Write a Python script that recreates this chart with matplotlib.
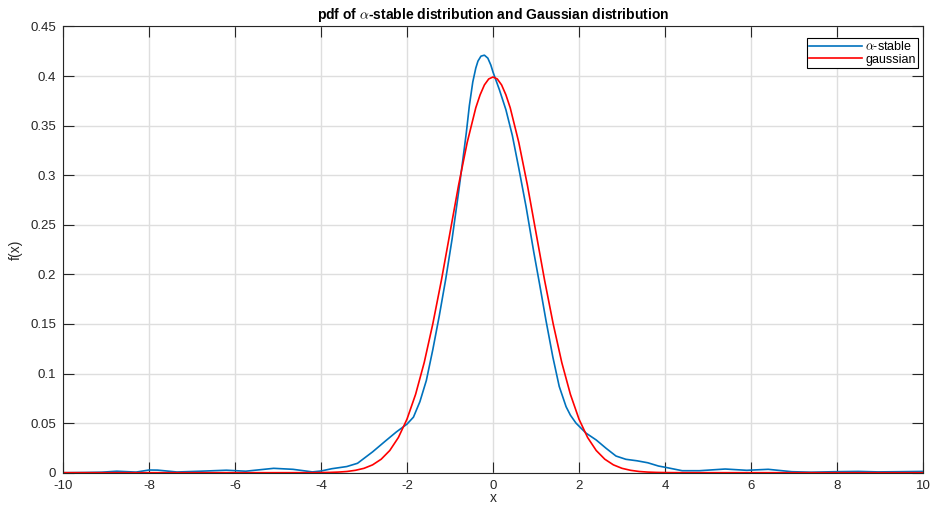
import matplotlib
matplotlib.use('Agg')
import matplotlib.pyplot as plt
from matplotlib.ticker import FuncFormatter

plt.rcParams['font.family'] = ['Liberation Sans', 'DejaVu Sans']
plt.rcParams['mathtext.fontset'] = 'cm'
plt.rcParams['axes.unicode_minus'] = False

# alpha-stable pdf
x_stable = [-10, -9.5, -9.1, -8.75, -8.3, -8.0, -7.8, -7.35, -6.8, -6.2, -5.75, -5.1,
            -4.65, -4.2, -4.0, -3.75, -3.4, -3.15, -2.8, -2.5, -2.25, -2.0, -1.85, -1.7,
            -1.55, -1.4, -1.25, -1.1, -0.95, -0.8, -0.7, -0.62, -0.55, -0.47, -0.4, -0.35,
            -0.28, -0.2, -0.12, -0.05, 0.0, 0.15, 0.3, 0.45, 0.6, 0.77, 0.95, 1.08, 1.23,
            1.39, 1.54, 1.7, 1.8, 1.93, 2.16, 2.4, 2.63, 2.86, 3.09, 3.35, 3.6, 3.85, 4.0,
            4.4, 4.8, 5.4, 5.9, 6.4, 6.95, 7.4, 7.95, 8.5, 8.95, 9.45, 10]
y_stable = [0.0, 0.0002, 0.0005, 0.0015, 0.0006, 0.0027, 0.0026, 0.0007, 0.0015, 0.0025,
            0.0015, 0.0044, 0.0034, 0.0008, 0.0017, 0.004, 0.0062, 0.0095, 0.021, 0.032,
            0.041, 0.049, 0.056, 0.0716, 0.093, 0.124, 0.158, 0.195, 0.236, 0.283, 0.316,
            0.343, 0.370, 0.394, 0.408, 0.415, 0.420, 0.421, 0.418, 0.411, 0.404, 0.386,
            0.366, 0.340, 0.307, 0.268, 0.222, 0.191, 0.154, 0.117, 0.087, 0.0665, 0.058,
            0.050, 0.040, 0.033, 0.0246, 0.0168, 0.0135, 0.012, 0.010, 0.0067, 0.0055,
            0.002, 0.002, 0.0037, 0.0024, 0.0034, 0.001, 0.0005, 0.001, 0.0013, 0.0008,
            0.001, 0.0013]

# gaussian pdf
x_gauss = [-10, -5, -4.4, -4.2, -4.0, -3.8, -3.6, -3.4, -3.2, -3.0, -2.8, -2.6, -2.4, -2.2,
           -2.0, -1.8, -1.6, -1.4, -1.2, -1.0, -0.8, -0.6, -0.4, -0.3, -0.2, -0.1, 0.0,
           0.1, 0.2, 0.3, 0.4, 0.6, 0.8, 1.0, 1.2, 1.4, 1.6, 1.8, 2.0, 2.2, 2.4, 2.6, 2.8,
           3.0, 3.2, 3.4, 3.6, 3.8, 4.0, 4.2, 4.4, 5, 10]
y_gauss = [0.0, 0.0, 0.00003, 0.00006, 0.00013, 0.00029, 0.0006, 0.0012, 0.0024, 0.0044,
           0.0079, 0.0136, 0.0224, 0.0355, 0.054, 0.079, 0.111, 0.150, 0.194, 0.242,
           0.290, 0.333, 0.368, 0.381, 0.391, 0.397, 0.399, 0.397, 0.391, 0.381, 0.368,
           0.333, 0.290, 0.242, 0.194, 0.150, 0.111, 0.079, 0.054, 0.0355, 0.0224, 0.0136,
           0.0079, 0.0044, 0.0024, 0.0012, 0.0006, 0.00029, 0.00013, 0.00006, 0.00003,
           0.0, 0.0]

x_ticks = [-10, -8, -6, -4, -2, 0, 2, 4, 6, 8, 10]
y_ticks = [0, 0.05, 0.1, 0.15, 0.2, 0.25, 0.3, 0.35, 0.4, 0.45]

dark = '#262626'

fig = plt.figure(figsize=(9.33, 5.08), dpi=100)
ax = fig.add_axes([0.0675, 0.0695, 0.9218, 0.8785])

ax.plot(x_stable, y_stable, color='#0072BD', lw=1.2, label=r'$\alpha$-stable')
ax.plot(x_gauss, y_gauss, color='#FF0000', lw=1.2, label='gaussian')

ax.set_xlim(-10, 10)
ax.set_ylim(0, 0.45)
ax.set_xticks(x_ticks)
ax.set_yticks(y_ticks)
ax.yaxis.set_major_formatter(FuncFormatter(lambda v, p: '%g' % round(v, 2)))

ax.grid(True, color='#dedede', lw=1.0)
ax.set_axisbelow(True)
ax.tick_params(direction='in', length=8, width=0.8, colors=dark, labelsize=9.5,
               top=True, right=True, labelcolor=dark)
ax.tick_params(axis='x', pad=5.5)
ax.tick_params(axis='y', pad=5)
for s in ax.spines.values():
    s.set_color(dark)
    s.set_linewidth(0.8)

ax.set_title(r'pdf of $\alpha$-stable distribution and Gaussian distribution',
             fontsize=10, fontweight='bold', color='black', pad=5)
ax.set_xlabel('x', fontsize=10, color=dark, labelpad=-1)
ax.set_ylabel('f(x)', fontsize=10, color=dark, labelpad=5)

leg = ax.legend(loc='upper right', bbox_to_anchor=(0.9945, 0.975), borderaxespad=0,
                fontsize=9, frameon=True, fancybox=False, edgecolor='black',
                framealpha=1, borderpad=0.2, handlelength=4.2, handletextpad=0.3,
                labelspacing=0.05)
leg.get_frame().set_linewidth(0.8)

fig.savefig('out.png', dpi=100)
